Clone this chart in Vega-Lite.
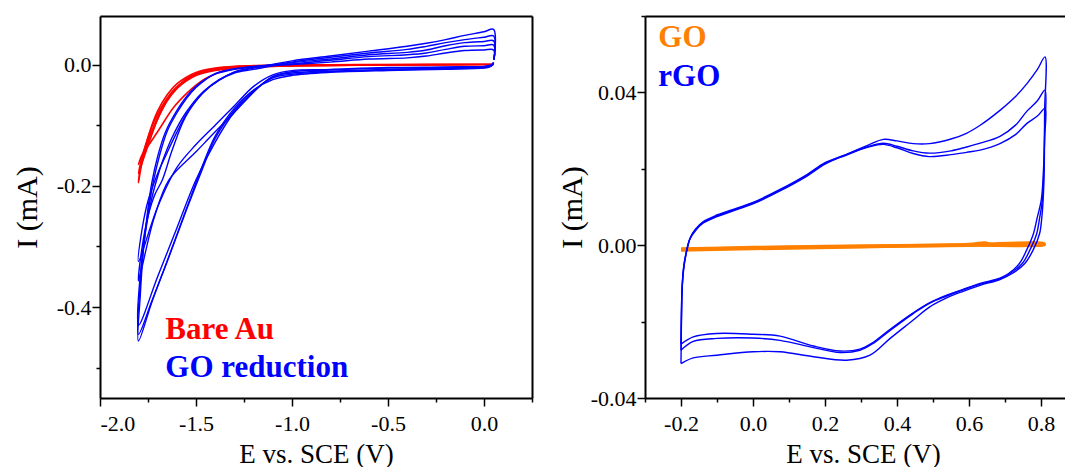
{
"$schema":"https://vega.github.io/schema/vega-lite/v6.json",
"padding":{"left":12,"top":15,"right":0,"bottom":0},
"spacing":24,
"background":"white",
"config":{"font":"Liberation Serif","view":{"stroke":null},"axis":{"domainColor":"black","domainWidth":2,"tickColor":"black","tickWidth":1.5,"labelColor":"black","titleColor":"black","labelFont":"Liberation Serif","titleFont":"Liberation Serif","labelFontSize":22,"titleFontWeight":"normal","grid":false},"text":{"font":"Liberation Serif"}},
"datasets":{
"left":[
{"s":"au","c":"r1","i":0,"E":0.05,"I":0},{"s":"au","c":"r1","i":1,"E":-0.3,"I":-0.0005},{"s":"au","c":"r1","i":2,"E":-0.8,"I":-0.0015},{"s":"au","c":"r1","i":3,"E":-1.1,"I":-0.0025},{"s":"au","c":"r1","i":4,"E":-1.25,"I":-0.004},{"s":"au","c":"r1","i":5,"E":-1.35,"I":-0.006},{"s":"au","c":"r1","i":6,"E":-1.45,"I":-0.011},{"s":"au","c":"r1","i":7,"E":-1.5,"I":-0.016},{"s":"au","c":"r1","i":8,"E":-1.55,"I":-0.024},{"s":"au","c":"r1","i":9,"E":-1.6,"I":-0.037},{"s":"au","c":"r1","i":10,"E":-1.65,"I":-0.057},{"s":"au","c":"r1","i":11,"E":-1.7,"I":-0.087},{"s":"au","c":"r1","i":12,"E":-1.75,"I":-0.128},{"s":"au","c":"r1","i":13,"E":-1.78,"I":-0.16},{"s":"au","c":"r1","i":14,"E":-1.8,"I":-0.195},{"s":"au","c":"r1","i":15,"E":-1.79,"I":-0.17},{"s":"au","c":"r1","i":16,"E":-1.77,"I":-0.145},{"s":"au","c":"r1","i":17,"E":-1.74,"I":-0.11},{"s":"au","c":"r1","i":18,"E":-1.7,"I":-0.077},{"s":"au","c":"r1","i":19,"E":-1.65,"I":-0.05},{"s":"au","c":"r1","i":20,"E":-1.6,"I":-0.032},{"s":"au","c":"r1","i":21,"E":-1.55,"I":-0.021},{"s":"au","c":"r1","i":22,"E":-1.5,"I":-0.013},{"s":"au","c":"r1","i":23,"E":-1.4,"I":-0.006},{"s":"au","c":"r1","i":24,"E":-1.3,"I":-0.003},{"s":"au","c":"r1","i":25,"E":-1.0,"I":-0.001},{"s":"au","c":"r1","i":26,"E":-0.5,"I":0},{"s":"au","c":"r1","i":27,"E":0.05,"I":0.0005},
{"s":"au","c":"r2","i":0,"E":0.05,"I":0},{"s":"au","c":"r2","i":1,"E":-0.5,"I":-0.001},{"s":"au","c":"r2","i":2,"E":-1.0,"I":-0.002},{"s":"au","c":"r2","i":3,"E":-1.25,"I":-0.004},{"s":"au","c":"r2","i":4,"E":-1.35,"I":-0.007},{"s":"au","c":"r2","i":5,"E":-1.45,"I":-0.012},{"s":"au","c":"r2","i":6,"E":-1.5,"I":-0.017},{"s":"au","c":"r2","i":7,"E":-1.55,"I":-0.026},{"s":"au","c":"r2","i":8,"E":-1.6,"I":-0.039},{"s":"au","c":"r2","i":9,"E":-1.65,"I":-0.059},{"s":"au","c":"r2","i":10,"E":-1.7,"I":-0.09},{"s":"au","c":"r2","i":11,"E":-1.74,"I":-0.125},{"s":"au","c":"r2","i":12,"E":-1.77,"I":-0.152},{"s":"au","c":"r2","i":13,"E":-1.8,"I":-0.18},{"s":"au","c":"r2","i":14,"E":-1.78,"I":-0.152},{"s":"au","c":"r2","i":15,"E":-1.75,"I":-0.12},{"s":"au","c":"r2","i":16,"E":-1.71,"I":-0.088},{"s":"au","c":"r2","i":17,"E":-1.66,"I":-0.06},{"s":"au","c":"r2","i":18,"E":-1.61,"I":-0.04},{"s":"au","c":"r2","i":19,"E":-1.55,"I":-0.025},{"s":"au","c":"r2","i":20,"E":-1.5,"I":-0.016},{"s":"au","c":"r2","i":21,"E":-1.4,"I":-0.007},{"s":"au","c":"r2","i":22,"E":-1.2,"I":-0.002},{"s":"au","c":"r2","i":23,"E":-0.7,"I":-0.001},{"s":"au","c":"r2","i":24,"E":0.05,"I":0},
{"s":"au","c":"r3","i":0,"E":0.05,"I":0},{"s":"au","c":"r3","i":1,"E":-0.6,"I":-0.001},{"s":"au","c":"r3","i":2,"E":-1.1,"I":-0.003},{"s":"au","c":"r3","i":3,"E":-1.3,"I":-0.006},{"s":"au","c":"r3","i":4,"E":-1.4,"I":-0.01},{"s":"au","c":"r3","i":5,"E":-1.5,"I":-0.018},{"s":"au","c":"r3","i":6,"E":-1.55,"I":-0.027},{"s":"au","c":"r3","i":7,"E":-1.6,"I":-0.04},{"s":"au","c":"r3","i":8,"E":-1.65,"I":-0.06},{"s":"au","c":"r3","i":9,"E":-1.7,"I":-0.09},{"s":"au","c":"r3","i":10,"E":-1.75,"I":-0.125},{"s":"au","c":"r3","i":11,"E":-1.8,"I":-0.165},{"s":"au","c":"r3","i":12,"E":-1.78,"I":-0.148},{"s":"au","c":"r3","i":13,"E":-1.74,"I":-0.13},{"s":"au","c":"r3","i":14,"E":-1.69,"I":-0.106},{"s":"au","c":"r3","i":15,"E":-1.62,"I":-0.072},{"s":"au","c":"r3","i":16,"E":-1.55,"I":-0.048},{"s":"au","c":"r3","i":17,"E":-1.5,"I":-0.034},{"s":"au","c":"r3","i":18,"E":-1.45,"I":-0.023},{"s":"au","c":"r3","i":19,"E":-1.35,"I":-0.01},{"s":"au","c":"r3","i":20,"E":-1.2,"I":-0.004},{"s":"au","c":"r3","i":21,"E":-0.9,"I":-0.001},{"s":"au","c":"r3","i":22,"E":0.05,"I":0},
{"s":"go","c":"c1","i":0,"E":0.05,"I":0.003},{"s":"go","c":"c1","i":1,"E":0.04,"I":-0.002},{"s":"go","c":"c1","i":2,"E":0.02,"I":-0.005},{"s":"go","c":"c1","i":3,"E":0.0,"I":-0.006},{"s":"go","c":"c1","i":4,"E":-0.2,"I":-0.008},{"s":"go","c":"c1","i":5,"E":-0.5,"I":-0.01},{"s":"go","c":"c1","i":6,"E":-0.8,"I":-0.013},{"s":"go","c":"c1","i":7,"E":-1.0,"I":-0.018},{"s":"go","c":"c1","i":8,"E":-1.1,"I":-0.025},{"s":"go","c":"c1","i":9,"E":-1.2,"I":-0.042},{"s":"go","c":"c1","i":10,"E":-1.3,"I":-0.072},{"s":"go","c":"c1","i":11,"E":-1.4,"I":-0.118},{"s":"go","c":"c1","i":12,"E":-1.47,"I":-0.17},{"s":"go","c":"c1","i":13,"E":-1.55,"I":-0.238},{"s":"go","c":"c1","i":14,"E":-1.65,"I":-0.324},{"s":"go","c":"c1","i":15,"E":-1.73,"I":-0.392},{"s":"go","c":"c1","i":16,"E":-1.8,"I":-0.456},{"s":"go","c":"c1","i":17,"E":-1.79,"I":-0.38},{"s":"go","c":"c1","i":18,"E":-1.775,"I":-0.31},{"s":"go","c":"c1","i":19,"E":-1.755,"I":-0.25},{"s":"go","c":"c1","i":20,"E":-1.73,"I":-0.195},{"s":"go","c":"c1","i":21,"E":-1.7,"I":-0.152},{"s":"go","c":"c1","i":22,"E":-1.66,"I":-0.112},{"s":"go","c":"c1","i":23,"E":-1.6,"I":-0.076},{"s":"go","c":"c1","i":24,"E":-1.55,"I":-0.053},{"s":"go","c":"c1","i":25,"E":-1.5,"I":-0.036},{"s":"go","c":"c1","i":26,"E":-1.45,"I":-0.024},{"s":"go","c":"c1","i":27,"E":-1.4,"I":-0.016},{"s":"go","c":"c1","i":28,"E":-1.3,"I":-0.008},{"s":"go","c":"c1","i":29,"E":-1.2,"I":-0.004},{"s":"go","c":"c1","i":30,"E":-1.0,"I":0.0},{"s":"go","c":"c1","i":31,"E":-0.8,"I":0.004},{"s":"go","c":"c1","i":32,"E":-0.6,"I":0.009},{"s":"go","c":"c1","i":33,"E":-0.4,"I":0.011},{"s":"go","c":"c1","i":34,"E":-0.3,"I":0.014},{"s":"go","c":"c1","i":35,"E":-0.2,"I":0.019},{"s":"go","c":"c1","i":36,"E":-0.1,"I":0.023},{"s":"go","c":"c1","i":37,"E":0.0,"I":0.024},{"s":"go","c":"c1","i":38,"E":0.05,"I":0.024},{"s":"go","c":"c1","i":39,"E":0.052,"I":0.008},
{"s":"go","c":"c2","i":0,"E":0.05,"I":0.003},{"s":"go","c":"c2","i":1,"E":0.04,"I":-0.002},{"s":"go","c":"c2","i":2,"E":0.02,"I":-0.004},{"s":"go","c":"c2","i":3,"E":0.0,"I":-0.005},{"s":"go","c":"c2","i":4,"E":-0.2,"I":-0.007},{"s":"go","c":"c2","i":5,"E":-0.5,"I":-0.009},{"s":"go","c":"c2","i":6,"E":-0.8,"I":-0.012},{"s":"go","c":"c2","i":7,"E":-1.0,"I":-0.016},{"s":"go","c":"c2","i":8,"E":-1.1,"I":-0.022},{"s":"go","c":"c2","i":9,"E":-1.2,"I":-0.043},{"s":"go","c":"c2","i":10,"E":-1.3,"I":-0.075},{"s":"go","c":"c2","i":11,"E":-1.4,"I":-0.122},{"s":"go","c":"c2","i":12,"E":-1.47,"I":-0.175},{"s":"go","c":"c2","i":13,"E":-1.55,"I":-0.24},{"s":"go","c":"c2","i":14,"E":-1.65,"I":-0.325},{"s":"go","c":"c2","i":15,"E":-1.73,"I":-0.39},{"s":"go","c":"c2","i":16,"E":-1.8,"I":-0.445},{"s":"go","c":"c2","i":17,"E":-1.79,"I":-0.36},{"s":"go","c":"c2","i":18,"E":-1.77,"I":-0.29},{"s":"go","c":"c2","i":19,"E":-1.745,"I":-0.235},{"s":"go","c":"c2","i":20,"E":-1.72,"I":-0.19},{"s":"go","c":"c2","i":21,"E":-1.69,"I":-0.15},{"s":"go","c":"c2","i":22,"E":-1.65,"I":-0.11},{"s":"go","c":"c2","i":23,"E":-1.6,"I":-0.08},{"s":"go","c":"c2","i":24,"E":-1.55,"I":-0.056},{"s":"go","c":"c2","i":25,"E":-1.5,"I":-0.038},{"s":"go","c":"c2","i":26,"E":-1.45,"I":-0.025},{"s":"go","c":"c2","i":27,"E":-1.4,"I":-0.015},{"s":"go","c":"c2","i":28,"E":-1.3,"I":-0.007},{"s":"go","c":"c2","i":29,"E":-1.2,"I":-0.003},{"s":"go","c":"c2","i":30,"E":-1.0,"I":0.001},{"s":"go","c":"c2","i":31,"E":-0.8,"I":0.007},{"s":"go","c":"c2","i":32,"E":-0.6,"I":0.013},{"s":"go","c":"c2","i":33,"E":-0.4,"I":0.016},{"s":"go","c":"c2","i":34,"E":-0.3,"I":0.019},{"s":"go","c":"c2","i":35,"E":-0.2,"I":0.025},{"s":"go","c":"c2","i":36,"E":-0.1,"I":0.03},{"s":"go","c":"c2","i":37,"E":0.0,"I":0.031},{"s":"go","c":"c2","i":38,"E":0.05,"I":0.032},{"s":"go","c":"c2","i":39,"E":0.052,"I":0.008},
{"s":"go","c":"c3","i":0,"E":0.05,"I":0.003},{"s":"go","c":"c3","i":1,"E":0.04,"I":-0.001},{"s":"go","c":"c3","i":2,"E":0.02,"I":-0.003},{"s":"go","c":"c3","i":3,"E":0.0,"I":-0.004},{"s":"go","c":"c3","i":4,"E":-0.2,"I":-0.006},{"s":"go","c":"c3","i":5,"E":-0.5,"I":-0.008},{"s":"go","c":"c3","i":6,"E":-0.8,"I":-0.011},{"s":"go","c":"c3","i":7,"E":-1.0,"I":-0.014},{"s":"go","c":"c3","i":8,"E":-1.1,"I":-0.02},{"s":"go","c":"c3","i":9,"E":-1.2,"I":-0.045},{"s":"go","c":"c3","i":10,"E":-1.3,"I":-0.078},{"s":"go","c":"c3","i":11,"E":-1.4,"I":-0.128},{"s":"go","c":"c3","i":12,"E":-1.5,"I":-0.19},{"s":"go","c":"c3","i":13,"E":-1.6,"I":-0.27},{"s":"go","c":"c3","i":14,"E":-1.7,"I":-0.35},{"s":"go","c":"c3","i":15,"E":-1.8,"I":-0.43},{"s":"go","c":"c3","i":16,"E":-1.785,"I":-0.33},{"s":"go","c":"c3","i":17,"E":-1.76,"I":-0.27},{"s":"go","c":"c3","i":18,"E":-1.73,"I":-0.22},{"s":"go","c":"c3","i":19,"E":-1.7,"I":-0.185},{"s":"go","c":"c3","i":20,"E":-1.675,"I":-0.16},{"s":"go","c":"c3","i":21,"E":-1.624,"I":-0.12},{"s":"go","c":"c3","i":22,"E":-1.554,"I":-0.08},{"s":"go","c":"c3","i":23,"E":-1.467,"I":-0.046},{"s":"go","c":"c3","i":24,"E":-1.38,"I":-0.026},{"s":"go","c":"c3","i":25,"E":-1.3,"I":-0.012},{"s":"go","c":"c3","i":26,"E":-1.2,"I":-0.005},{"s":"go","c":"c3","i":27,"E":-1.0,"I":0.003},{"s":"go","c":"c3","i":28,"E":-0.8,"I":0.009},{"s":"go","c":"c3","i":29,"E":-0.6,"I":0.016},{"s":"go","c":"c3","i":30,"E":-0.4,"I":0.02},{"s":"go","c":"c3","i":31,"E":-0.3,"I":0.024},{"s":"go","c":"c3","i":32,"E":-0.2,"I":0.031},{"s":"go","c":"c3","i":33,"E":-0.1,"I":0.036},{"s":"go","c":"c3","i":34,"E":0.0,"I":0.038},{"s":"go","c":"c3","i":35,"E":0.05,"I":0.039},{"s":"go","c":"c3","i":36,"E":0.052,"I":0.008},
{"s":"go","c":"c4","i":0,"E":0.05,"I":0.003},{"s":"go","c":"c4","i":1,"E":0.04,"I":-0.001},{"s":"go","c":"c4","i":2,"E":0.02,"I":-0.003},{"s":"go","c":"c4","i":3,"E":0.0,"I":-0.004},{"s":"go","c":"c4","i":4,"E":-0.2,"I":-0.005},{"s":"go","c":"c4","i":5,"E":-0.5,"I":-0.006},{"s":"go","c":"c4","i":6,"E":-0.8,"I":-0.009},{"s":"go","c":"c4","i":7,"E":-1.0,"I":-0.012},{"s":"go","c":"c4","i":8,"E":-1.1,"I":-0.02},{"s":"go","c":"c4","i":9,"E":-1.172,"I":-0.037},{"s":"go","c":"c4","i":10,"E":-1.3,"I":-0.079},{"s":"go","c":"c4","i":11,"E":-1.4,"I":-0.111},{"s":"go","c":"c4","i":12,"E":-1.5,"I":-0.144},{"s":"go","c":"c4","i":13,"E":-1.64,"I":-0.19},{"s":"go","c":"c4","i":14,"E":-1.72,"I":-0.255},{"s":"go","c":"c4","i":15,"E":-1.8,"I":-0.357},{"s":"go","c":"c4","i":16,"E":-1.78,"I":-0.3},{"s":"go","c":"c4","i":17,"E":-1.75,"I":-0.25},{"s":"go","c":"c4","i":18,"E":-1.715,"I":-0.215},{"s":"go","c":"c4","i":19,"E":-1.675,"I":-0.19},{"s":"go","c":"c4","i":20,"E":-1.624,"I":-0.141},{"s":"go","c":"c4","i":21,"E":-1.554,"I":-0.086},{"s":"go","c":"c4","i":22,"E":-1.467,"I":-0.048},{"s":"go","c":"c4","i":23,"E":-1.38,"I":-0.026},{"s":"go","c":"c4","i":24,"E":-1.3,"I":-0.014},{"s":"go","c":"c4","i":25,"E":-1.2,"I":-0.008},{"s":"go","c":"c4","i":26,"E":-1.0,"I":0.004},{"s":"go","c":"c4","i":27,"E":-0.8,"I":0.012},{"s":"go","c":"c4","i":28,"E":-0.6,"I":0.019},{"s":"go","c":"c4","i":29,"E":-0.4,"I":0.025},{"s":"go","c":"c4","i":30,"E":-0.3,"I":0.03},{"s":"go","c":"c4","i":31,"E":-0.2,"I":0.036},{"s":"go","c":"c4","i":32,"E":-0.1,"I":0.041},{"s":"go","c":"c4","i":33,"E":0.0,"I":0.045},{"s":"go","c":"c4","i":34,"E":0.05,"I":0.047},{"s":"go","c":"c4","i":35,"E":0.052,"I":0.008},
{"s":"go","c":"c5","i":0,"E":0.05,"I":0.003},{"s":"go","c":"c5","i":1,"E":0.04,"I":0.0},{"s":"go","c":"c5","i":2,"E":0.02,"I":-0.002},{"s":"go","c":"c5","i":3,"E":0.0,"I":-0.003},{"s":"go","c":"c5","i":4,"E":-0.2,"I":-0.004},{"s":"go","c":"c5","i":5,"E":-0.5,"I":-0.005},{"s":"go","c":"c5","i":6,"E":-0.8,"I":-0.008},{"s":"go","c":"c5","i":7,"E":-1.0,"I":-0.01},{"s":"go","c":"c5","i":8,"E":-1.1,"I":-0.017},{"s":"go","c":"c5","i":9,"E":-1.2,"I":-0.036},{"s":"go","c":"c5","i":10,"E":-1.3,"I":-0.068},{"s":"go","c":"c5","i":11,"E":-1.4,"I":-0.1},{"s":"go","c":"c5","i":12,"E":-1.5,"I":-0.132},{"s":"go","c":"c5","i":13,"E":-1.6,"I":-0.17},{"s":"go","c":"c5","i":14,"E":-1.7,"I":-0.235},{"s":"go","c":"c5","i":15,"E":-1.8,"I":-0.325},{"s":"go","c":"c5","i":16,"E":-1.78,"I":-0.27},{"s":"go","c":"c5","i":17,"E":-1.75,"I":-0.225},{"s":"go","c":"c5","i":18,"E":-1.7,"I":-0.18},{"s":"go","c":"c5","i":19,"E":-1.65,"I":-0.145},{"s":"go","c":"c5","i":20,"E":-1.6,"I":-0.112},{"s":"go","c":"c5","i":21,"E":-1.55,"I":-0.082},{"s":"go","c":"c5","i":22,"E":-1.5,"I":-0.06},{"s":"go","c":"c5","i":23,"E":-1.45,"I":-0.042},{"s":"go","c":"c5","i":24,"E":-1.38,"I":-0.025},{"s":"go","c":"c5","i":25,"E":-1.3,"I":-0.013},{"s":"go","c":"c5","i":26,"E":-1.2,"I":-0.006},{"s":"go","c":"c5","i":27,"E":-1.0,"I":0.006},{"s":"go","c":"c5","i":28,"E":-0.8,"I":0.014},{"s":"go","c":"c5","i":29,"E":-0.6,"I":0.022},{"s":"go","c":"c5","i":30,"E":-0.4,"I":0.03},{"s":"go","c":"c5","i":31,"E":-0.3,"I":0.035},{"s":"go","c":"c5","i":32,"E":-0.2,"I":0.041},{"s":"go","c":"c5","i":33,"E":-0.1,"I":0.048},{"s":"go","c":"c5","i":34,"E":0.0,"I":0.054},{"s":"go","c":"c5","i":35,"E":0.05,"I":0.058},{"s":"go","c":"c5","i":36,"E":0.052,"I":0.008}
],
"right":[
{"s":"go","c":"g1","i":0,"E":-0.2,"I":-0.0012},{"s":"go","c":"g1","i":1,"E":0.0,"I":-0.0008},{"s":"go","c":"g1","i":2,"E":0.2,"I":-0.0005},{"s":"go","c":"g1","i":3,"E":0.4,"I":-0.0003},{"s":"go","c":"g1","i":4,"E":0.6,"I":-0.0001},{"s":"go","c":"g1","i":5,"E":0.81,"I":0.0002},{"s":"go","c":"g1","i":6,"E":0.808,"I":0.0005},{"s":"go","c":"g1","i":7,"E":0.6,"I":0.0002},{"s":"go","c":"g1","i":8,"E":0.4,"I":0.0},{"s":"go","c":"g1","i":9,"E":0.2,"I":-0.0002},{"s":"go","c":"g1","i":10,"E":0.0,"I":-0.0005},{"s":"go","c":"g1","i":11,"E":-0.2,"I":-0.0009},
{"s":"go","c":"g2","i":0,"E":-0.2,"I":-0.0014},{"s":"go","c":"g2","i":1,"E":0.0,"I":-0.001},{"s":"go","c":"g2","i":2,"E":0.3,"I":-0.0005},{"s":"go","c":"g2","i":3,"E":0.65,"I":0.0},{"s":"go","c":"g2","i":4,"E":0.81,"I":0.0001},{"s":"go","c":"g2","i":5,"E":0.808,"I":0.0004},{"s":"go","c":"g2","i":6,"E":0.66,"I":0.0003},{"s":"go","c":"g2","i":7,"E":0.645,"I":0.0007},{"s":"go","c":"g2","i":8,"E":0.6,"I":0.0003},{"s":"go","c":"g2","i":9,"E":0.3,"I":-0.0002},{"s":"go","c":"g2","i":10,"E":0.0,"I":-0.0006},{"s":"go","c":"g2","i":11,"E":-0.2,"I":-0.0011},
{"s":"rgo","c":"A","i":0,"E":-0.2,"I":-0.031},{"s":"rgo","c":"A","i":1,"E":-0.199,"I":-0.022},{"s":"rgo","c":"A","i":2,"E":-0.197,"I":-0.012},{"s":"rgo","c":"A","i":3,"E":-0.193,"I":-0.006},{"s":"rgo","c":"A","i":4,"E":-0.186,"I":-0.002},{"s":"rgo","c":"A","i":5,"E":-0.176,"I":0.0015},{"s":"rgo","c":"A","i":6,"E":-0.16,"I":0.0038},{"s":"rgo","c":"A","i":7,"E":-0.138,"I":0.0058},{"s":"rgo","c":"A","i":8,"E":-0.1,"I":0.0075},{"s":"rgo","c":"A","i":9,"E":-0.045,"I":0.0093},{"s":"rgo","c":"A","i":10,"E":0.0,"I":0.0108},{"s":"rgo","c":"A","i":11,"E":0.075,"I":0.0142},{"s":"rgo","c":"A","i":12,"E":0.15,"I":0.0181},{"s":"rgo","c":"A","i":13,"E":0.2,"I":0.0212},{"s":"rgo","c":"A","i":14,"E":0.26,"I":0.0238},{"s":"rgo","c":"A","i":15,"E":0.32,"I":0.0262},{"s":"rgo","c":"A","i":16,"E":0.362,"I":0.0277},{"s":"rgo","c":"A","i":17,"E":0.4,"I":0.0273},{"s":"rgo","c":"A","i":18,"E":0.445,"I":0.0266},{"s":"rgo","c":"A","i":19,"E":0.49,"I":0.0266},{"s":"rgo","c":"A","i":20,"E":0.55,"I":0.0278},{"s":"rgo","c":"A","i":21,"E":0.593,"I":0.0293},{"s":"rgo","c":"A","i":22,"E":0.631,"I":0.0314},{"s":"rgo","c":"A","i":23,"E":0.686,"I":0.0353},{"s":"rgo","c":"A","i":24,"E":0.73,"I":0.039},{"s":"rgo","c":"A","i":25,"E":0.761,"I":0.0423},{"s":"rgo","c":"A","i":26,"E":0.79,"I":0.046},{"s":"rgo","c":"A","i":27,"E":0.811,"I":0.0493},{"s":"rgo","c":"A","i":28,"E":0.81,"I":0.035},{"s":"rgo","c":"A","i":29,"E":0.809,"I":0.02},{"s":"rgo","c":"A","i":30,"E":0.806,"I":0.012},{"s":"rgo","c":"A","i":31,"E":0.802,"I":0.007},{"s":"rgo","c":"A","i":32,"E":0.796,"I":0.003},{"s":"rgo","c":"A","i":33,"E":0.778,"I":-0.0013},{"s":"rgo","c":"A","i":34,"E":0.755,"I":-0.0048},{"s":"rgo","c":"A","i":35,"E":0.72,"I":-0.0074},{"s":"rgo","c":"A","i":36,"E":0.686,"I":-0.009},{"s":"rgo","c":"A","i":37,"E":0.631,"I":-0.0105},{"s":"rgo","c":"A","i":38,"E":0.58,"I":-0.0122},{"s":"rgo","c":"A","i":39,"E":0.538,"I":-0.0138},{"s":"rgo","c":"A","i":40,"E":0.49,"I":-0.0162},{"s":"rgo","c":"A","i":41,"E":0.445,"I":-0.0196},{"s":"rgo","c":"A","i":42,"E":0.381,"I":-0.0244},{"s":"rgo","c":"A","i":43,"E":0.325,"I":-0.0288},{"s":"rgo","c":"A","i":44,"E":0.26,"I":-0.0301},{"s":"rgo","c":"A","i":45,"E":0.168,"I":-0.0292},{"s":"rgo","c":"A","i":46,"E":0.075,"I":-0.0279},{"s":"rgo","c":"A","i":47,"E":0.0,"I":-0.0279},{"s":"rgo","c":"A","i":48,"E":-0.1,"I":-0.0288},{"s":"rgo","c":"A","i":49,"E":-0.166,"I":-0.0295},{"s":"rgo","c":"A","i":50,"E":-0.2,"I":-0.031},
{"s":"rgo","c":"B","i":0,"E":-0.2,"I":-0.0275},{"s":"rgo","c":"B","i":1,"E":-0.199,"I":-0.02},{"s":"rgo","c":"B","i":2,"E":-0.197,"I":-0.0115},{"s":"rgo","c":"B","i":3,"E":-0.192,"I":-0.0058},{"s":"rgo","c":"B","i":4,"E":-0.185,"I":-0.0018},{"s":"rgo","c":"B","i":5,"E":-0.175,"I":0.0017},{"s":"rgo","c":"B","i":6,"E":-0.16,"I":0.004},{"s":"rgo","c":"B","i":7,"E":-0.138,"I":0.006},{"s":"rgo","c":"B","i":8,"E":-0.1,"I":0.0077},{"s":"rgo","c":"B","i":9,"E":-0.045,"I":0.0095},{"s":"rgo","c":"B","i":10,"E":0.0,"I":0.011},{"s":"rgo","c":"B","i":11,"E":0.075,"I":0.0144},{"s":"rgo","c":"B","i":12,"E":0.15,"I":0.0183},{"s":"rgo","c":"B","i":13,"E":0.2,"I":0.0214},{"s":"rgo","c":"B","i":14,"E":0.26,"I":0.0236},{"s":"rgo","c":"B","i":15,"E":0.32,"I":0.0258},{"s":"rgo","c":"B","i":16,"E":0.362,"I":0.0267},{"s":"rgo","c":"B","i":17,"E":0.4,"I":0.0259},{"s":"rgo","c":"B","i":18,"E":0.445,"I":0.0247},{"s":"rgo","c":"B","i":19,"E":0.49,"I":0.0241},{"s":"rgo","c":"B","i":20,"E":0.55,"I":0.0247},{"s":"rgo","c":"B","i":21,"E":0.593,"I":0.0257},{"s":"rgo","c":"B","i":22,"E":0.631,"I":0.0267},{"s":"rgo","c":"B","i":23,"E":0.686,"I":0.0285},{"s":"rgo","c":"B","i":24,"E":0.73,"I":0.0315},{"s":"rgo","c":"B","i":25,"E":0.761,"I":0.0351},{"s":"rgo","c":"B","i":26,"E":0.79,"I":0.0378},{"s":"rgo","c":"B","i":27,"E":0.811,"I":0.0406},{"s":"rgo","c":"B","i":28,"E":0.81,"I":0.03},{"s":"rgo","c":"B","i":29,"E":0.808,"I":0.02},{"s":"rgo","c":"B","i":30,"E":0.804,"I":0.012},{"s":"rgo","c":"B","i":31,"E":0.796,"I":0.007},{"s":"rgo","c":"B","i":32,"E":0.788,"I":0.003},{"s":"rgo","c":"B","i":33,"E":0.769,"I":-0.0013},{"s":"rgo","c":"B","i":34,"E":0.748,"I":-0.0048},{"s":"rgo","c":"B","i":35,"E":0.714,"I":-0.0074},{"s":"rgo","c":"B","i":36,"E":0.686,"I":-0.0088},{"s":"rgo","c":"B","i":37,"E":0.631,"I":-0.0102},{"s":"rgo","c":"B","i":38,"E":0.58,"I":-0.0118},{"s":"rgo","c":"B","i":39,"E":0.538,"I":-0.0133},{"s":"rgo","c":"B","i":40,"E":0.49,"I":-0.0152},{"s":"rgo","c":"B","i":41,"E":0.445,"I":-0.0179},{"s":"rgo","c":"B","i":42,"E":0.381,"I":-0.0223},{"s":"rgo","c":"B","i":43,"E":0.334,"I":-0.0257},{"s":"rgo","c":"B","i":44,"E":0.297,"I":-0.0275},{"s":"rgo","c":"B","i":45,"E":0.242,"I":-0.0281},{"s":"rgo","c":"B","i":46,"E":0.168,"I":-0.0268},{"s":"rgo","c":"B","i":47,"E":0.075,"I":-0.0249},{"s":"rgo","c":"B","i":48,"E":0.0,"I":-0.0243},{"s":"rgo","c":"B","i":49,"E":-0.1,"I":-0.0244},{"s":"rgo","c":"B","i":50,"E":-0.166,"I":-0.0252},{"s":"rgo","c":"B","i":51,"E":-0.2,"I":-0.0275},
{"s":"rgo","c":"C","i":0,"E":-0.2,"I":-0.0259},{"s":"rgo","c":"C","i":1,"E":-0.199,"I":-0.019},{"s":"rgo","c":"C","i":2,"E":-0.197,"I":-0.011},{"s":"rgo","c":"C","i":3,"E":-0.192,"I":-0.0055},{"s":"rgo","c":"C","i":4,"E":-0.184,"I":-0.0015},{"s":"rgo","c":"C","i":5,"E":-0.174,"I":0.002},{"s":"rgo","c":"C","i":6,"E":-0.16,"I":0.0042},{"s":"rgo","c":"C","i":7,"E":-0.138,"I":0.0062},{"s":"rgo","c":"C","i":8,"E":-0.1,"I":0.0079},{"s":"rgo","c":"C","i":9,"E":-0.045,"I":0.0097},{"s":"rgo","c":"C","i":10,"E":0.0,"I":0.0112},{"s":"rgo","c":"C","i":11,"E":0.075,"I":0.0146},{"s":"rgo","c":"C","i":12,"E":0.15,"I":0.0185},{"s":"rgo","c":"C","i":13,"E":0.2,"I":0.0216},{"s":"rgo","c":"C","i":14,"E":0.26,"I":0.0238},{"s":"rgo","c":"C","i":15,"E":0.32,"I":0.0257},{"s":"rgo","c":"C","i":16,"E":0.362,"I":0.0264},{"s":"rgo","c":"C","i":17,"E":0.4,"I":0.0255},{"s":"rgo","c":"C","i":18,"E":0.445,"I":0.024},{"s":"rgo","c":"C","i":19,"E":0.49,"I":0.0232},{"s":"rgo","c":"C","i":20,"E":0.55,"I":0.0237},{"s":"rgo","c":"C","i":21,"E":0.593,"I":0.0243},{"s":"rgo","c":"C","i":22,"E":0.631,"I":0.0249},{"s":"rgo","c":"C","i":23,"E":0.686,"I":0.0266},{"s":"rgo","c":"C","i":24,"E":0.73,"I":0.029},{"s":"rgo","c":"C","i":25,"E":0.761,"I":0.0319},{"s":"rgo","c":"C","i":26,"E":0.79,"I":0.0338},{"s":"rgo","c":"C","i":27,"E":0.811,"I":0.0358},{"s":"rgo","c":"C","i":28,"E":0.81,"I":0.028},{"s":"rgo","c":"C","i":29,"E":0.807,"I":0.02},{"s":"rgo","c":"C","i":30,"E":0.801,"I":0.012},{"s":"rgo","c":"C","i":31,"E":0.789,"I":0.007},{"s":"rgo","c":"C","i":32,"E":0.779,"I":0.003},{"s":"rgo","c":"C","i":33,"E":0.76,"I":-0.0013},{"s":"rgo","c":"C","i":34,"E":0.74,"I":-0.0048},{"s":"rgo","c":"C","i":35,"E":0.71,"I":-0.0074},{"s":"rgo","c":"C","i":36,"E":0.686,"I":-0.0086},{"s":"rgo","c":"C","i":37,"E":0.631,"I":-0.01},{"s":"rgo","c":"C","i":38,"E":0.58,"I":-0.0117},{"s":"rgo","c":"C","i":39,"E":0.538,"I":-0.0131},{"s":"rgo","c":"C","i":40,"E":0.49,"I":-0.0151},{"s":"rgo","c":"C","i":41,"E":0.445,"I":-0.0177},{"s":"rgo","c":"C","i":42,"E":0.381,"I":-0.022},{"s":"rgo","c":"C","i":43,"E":0.334,"I":-0.0254},{"s":"rgo","c":"C","i":44,"E":0.297,"I":-0.0272},{"s":"rgo","c":"C","i":45,"E":0.242,"I":-0.0277},{"s":"rgo","c":"C","i":46,"E":0.168,"I":-0.0264},{"s":"rgo","c":"C","i":47,"E":0.075,"I":-0.0238},{"s":"rgo","c":"C","i":48,"E":0.0,"I":-0.0233},{"s":"rgo","c":"C","i":49,"E":-0.101,"I":-0.0231},{"s":"rgo","c":"C","i":50,"E":-0.166,"I":-0.024},{"s":"rgo","c":"C","i":51,"E":-0.2,"I":-0.0259}
],
"leftText":[{"s":"au","t":"Bare Au","E":-1.66,"I":-0.452},{"s":"go","t":"GO reduction","E":-1.66,"I":-0.516}],
"rightText":[{"s":"go","t":"GO","E":-0.263,"I":0.0519},{"s":"rgo","t":"rGO","E":-0.263,"I":0.0416}]
},
"hconcat":[
{"width":432,"height":382,
"layer":[
{"data":{"name":"left"},"mark":{"type":"line","interpolate":"catmull-rom"},
"encoding":{
"x":{"field":"E","type":"quantitative","scale":{"domain":[-2,0.25],"nice":false,"zero":false},"axis":{"orient":"bottom","values":[-2,-1.5,-1,-0.5,0],"tickSize":8,"labelPadding":7,"labelFont":"Liberation Serif","titleFont":"Liberation Serif","labelExpr":"(datum.value < -1e-9 ? '-' : '') + format(abs(datum.value), '.1f')","title":"E vs. SCE (V)","titleFontSize":27,"titlePadding":7}},
"y":{"field":"I","type":"quantitative","scale":{"domain":[-0.55,0.08],"nice":false,"zero":false},"axis":{"orient":"left","values":[-0.4,-0.2,0],"tickSize":8,"labelPadding":1,"labelFont":"Liberation Serif","titleFont":"Liberation Serif","labelExpr":"(datum.value < -1e-9 ? '-' : '') + format(abs(datum.value), '.1f')","title":"I (mA)","titleFontSize":30,"titlePadding":14}},
"color":{"field":"s","type":"nominal","scale":{"domain":["au","go"],"range":["#ff0000","#0000ff"]},"legend":null},
"strokeWidth":{"field":"s","type":"nominal","scale":{"domain":["au","go"],"range":[1.6,1.4]},"legend":null},
"detail":{"field":"c"},
"order":{"field":"i","type":"quantitative"}}},
{"data":{"name":"leftText"},"mark":{"type":"text","align":"left","baseline":"alphabetic","font":"Liberation Serif","fontWeight":"bold","fontSize":31},
"encoding":{
"x":{"field":"E","type":"quantitative","axis":{"orient":"top","ticks":false,"labels":false,"title":null,"domain":true}},
"y":{"field":"I","type":"quantitative","axis":{"orient":"right","ticks":false,"labels":false,"title":null,"domain":true}},
"text":{"field":"t"},
"color":{"field":"s","type":"nominal","legend":null}}},
{"data":{"name":"leftText"},"mark":{"type":"point","opacity":0},
"encoding":{
"x":{"field":"E","type":"quantitative","axis":{"orient":"bottom","values":[-1.75,-1.25,-0.75,-0.25,0.25],"tickSize":4,"labels":false,"domain":false,"title":null}},
"y":{"field":"I","type":"quantitative","axis":{"orient":"left","values":[-0.5,-0.3,-0.1],"tickSize":4,"labels":false,"domain":false,"title":null}}}}
],
"resolve":{"axis":{"x":"independent","y":"independent"}}},
{"width":420,"height":382,
"layer":[
{"data":{"name":"right"},"mark":{"type":"line","interpolate":"catmull-rom"},
"encoding":{
"x":{"field":"E","type":"quantitative","scale":{"domain":[-0.3,0.86667],"nice":false,"zero":false},"axis":{"orient":"bottom","values":[-0.2,0,0.2,0.4,0.6,0.8],"tickSize":8,"labelPadding":7,"labelFont":"Liberation Serif","titleFont":"Liberation Serif","labelExpr":"(datum.value < -1e-9 ? '-' : '') + format(abs(datum.value), '.1f')","title":"E vs. SCE (V)","titleFontSize":27,"titlePadding":7,"titleX":218}},
"y":{"field":"I","type":"quantitative","scale":{"domain":[-0.04,0.06],"nice":false,"zero":false},"axis":{"orient":"left","values":[-0.04,0,0.04],"tickSize":8,"labelPadding":1,"labelFont":"Liberation Serif","titleFont":"Liberation Serif","labelExpr":"(datum.value < -1e-9 ? '-' : '') + format(abs(datum.value), '.2f')","title":"I (mA)","titleFontSize":30,"titlePadding":3}},
"color":{"field":"s","type":"nominal","scale":{"domain":["go","rgo"],"range":["#ff8000","#0000ff"]},"legend":null},
"strokeWidth":{"field":"s","type":"nominal","scale":{"domain":["go","rgo"],"range":[2.6,1.4]},"legend":null},
"detail":{"field":"c"},
"order":{"field":"i","type":"quantitative"}}},
{"data":{"name":"rightText"},"mark":{"type":"text","align":"left","baseline":"alphabetic","font":"Liberation Serif","fontWeight":"bold","fontSize":31},
"encoding":{
"x":{"field":"E","type":"quantitative","axis":{"orient":"top","ticks":false,"labels":false,"title":null,"domain":true}},
"y":{"field":"I","type":"quantitative","axis":null},
"text":{"field":"t"},
"color":{"field":"s","type":"nominal","legend":null}}},
{"data":{"name":"rightText"},"mark":{"type":"point","opacity":0},
"encoding":{
"x":{"field":"E","type":"quantitative","axis":{"orient":"bottom","values":[-0.3,-0.1,0.1,0.3,0.5,0.7],"tickSize":4,"labels":false,"domain":false,"title":null}},
"y":{"field":"I","type":"quantitative","axis":{"orient":"left","values":[-0.02,0.02,0.06],"tickSize":4,"labels":false,"domain":false,"title":null}}}}
],
"resolve":{"axis":{"x":"independent","y":"independent"}}}
],
"resolve":{"scale":{"x":"independent","y":"independent","color":"independent","strokeWidth":"independent"}}
}
